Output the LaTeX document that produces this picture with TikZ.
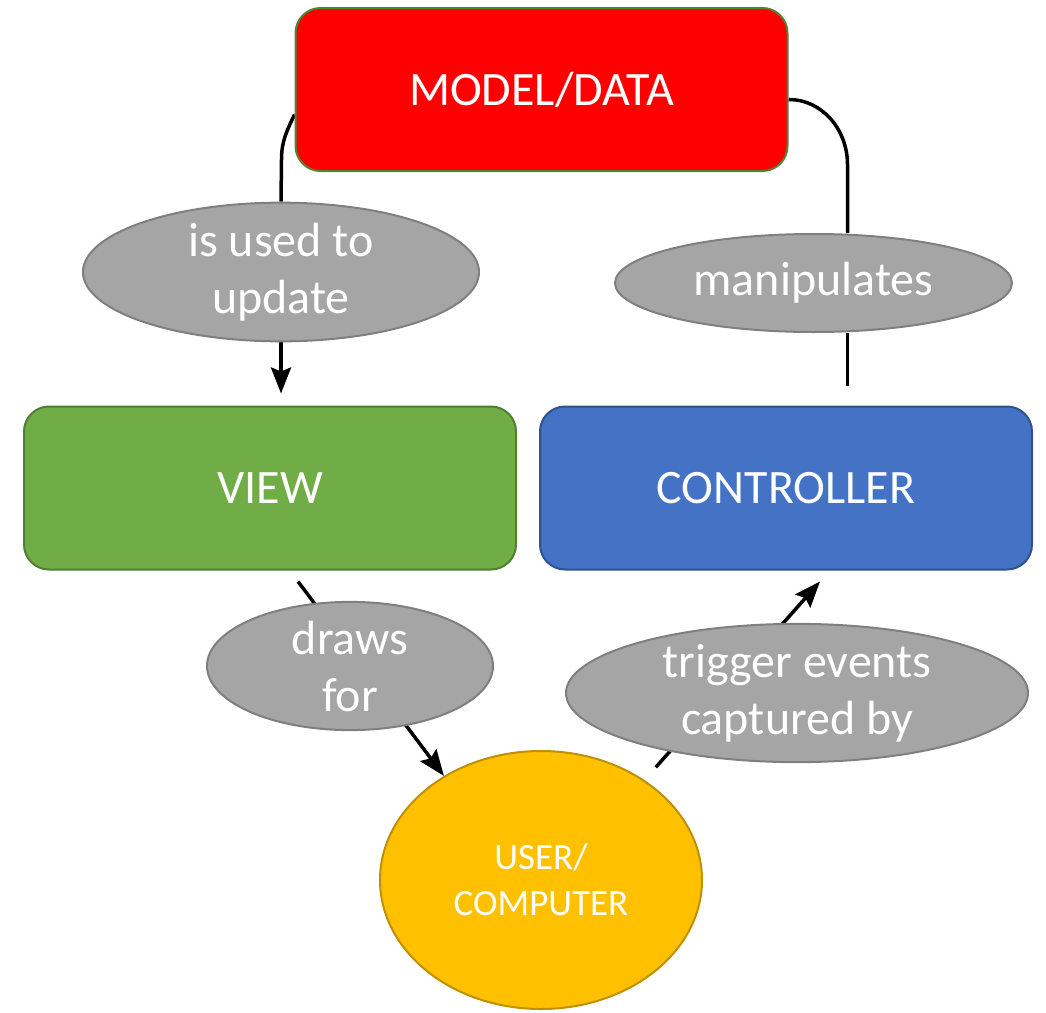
\documentclass[tikz,border=0pt]{standalone}
\usepackage{fontspec}
\setmainfont{Carlito}
\usetikzlibrary{positioning,shapes.geometric,arrows.meta,backgrounds}
\definecolor{modelred}{RGB}{255,0,0}
\definecolor{modelborder}{RGB}{84,130,53}
\definecolor{viewgreen}{RGB}{112,173,71}
\definecolor{viewborder}{RGB}{80,126,50}
\definecolor{ctrlblue}{RGB}{68,114,196}
\definecolor{ctrlborder}{RGB}{47,82,143}
\definecolor{useryellow}{RGB}{255,192,0}
\definecolor{userborder}{RGB}{191,144,0}
\definecolor{bubblegray}{RGB}{165,165,165}
\definecolor{bubbleborder}{RGB}{127,127,127}

\begin{document}
\begin{tikzpicture}[x=1pt, y=-1pt]
    % Define styles
    \tikzstyle{box} = [rectangle, rounded corners=25pt, minimum width=492pt, minimum height=163pt, line width=2pt, text=white, font=\fontsize{48}{56}\selectfont]
    \tikzstyle{bubble} = [ellipse, inner sep=0pt, fill=bubblegray, draw=bubbleborder, line width=2pt, text=white, align=center, font=\fontsize{48}{57}\selectfont]
    \tikzstyle{link} = [line width=3.5pt, black]
    \tikzstyle{arrow} = [link, -{Stealth[length=26pt,width=20pt,inset=4pt]}]

    \useasboundingbox (0,0) rectangle (1046,1012);

    % Boxes
    \node [box, fill=modelred, draw=modelborder] (model) at (541.5,89.5) {MODEL/DATA};
    \node [box, fill=viewgreen, draw=viewborder] (view) at (270,488) {VIEW};
    \node [box, fill=ctrlblue, draw=ctrlborder, right=22pt of view] (controller) {CONTROLLER};
    \node [ellipse, inner sep=0pt, minimum width=322pt, minimum height=258pt, fill=useryellow, draw=userborder, line width=2pt, text=white, align=center, font=\fontsize{37}{46}\selectfont] (user) at (541,880) {USER/\\COMPUTER};

    % Labels on the connectors
    \node [bubble, minimum width=396pt, minimum height=102pt] (used) at (281,272) {is used to\\update};
    \node [bubble, minimum width=397pt, minimum height=98pt] (manip) at (813.5,283) {manipulates};
    \node [bubble, minimum width=286pt, minimum height=108pt] (draws) at (350,666) {draws\\for};
    \node [bubble, minimum width=462pt, minimum height=112pt] (trigger) at (797,693) {trigger events\\captured by};

    % Connectors
    \begin{scope}[on background layer]
        \draw [link] ([yshift=-25pt]model.west) to[out=-115, in=90] ++(-13,45) -- (used.north);
        \draw [arrow, shorten >=12pt] (used.south) -- (used.south |- view.north);
        \draw [link] ([yshift=-10pt]model.east) to[out=0, in=90] ++(59,65) coordinate (turn) -- (turn |- manip.north);
        \draw [link] (turn |- manip.south) -- ++(0,53);
        \draw [arrow] ([xshift=28pt,yshift=-11pt]view.south) -- (user.133);
        \draw [arrow, shorten <=17pt] (user.44) -- ([xshift=34pt,yshift=-11pt]controller.south);
    \end{scope}
\end{tikzpicture}
\end{document}
